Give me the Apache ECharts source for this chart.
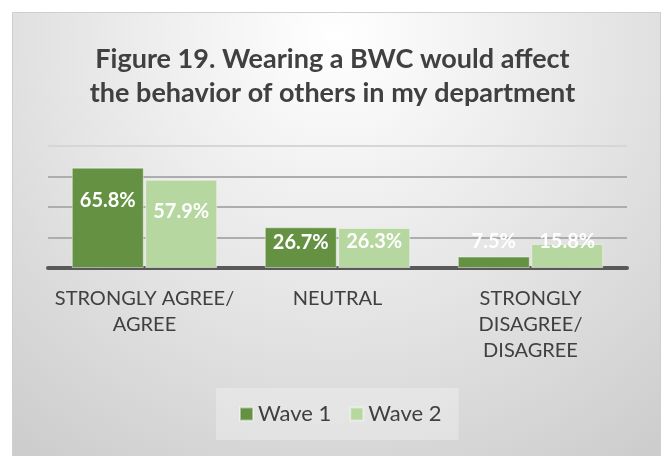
<!DOCTYPE html>
<html>
<head>
<meta charset="utf-8">
<script src="https://cdn.jsdelivr.net/npm/echarts@6/dist/echarts.min.js"></script>
<style>
html,body{margin:0;padding:0;background:#fff;}
#chart{width:665px;height:456px;}
</style>
</head>
<body>
<div id="chart"></div>
<script>
var titleText = 'Figure 19. Wearing a BWC would affect\nthe behavior of others in my department';
var categories = ['STRONGLY AGREE/\nAGREE', 'NEUTRAL', 'STRONGLY\nDISAGREE/\nDISAGREE'];
var seriesNames = ['Wave 1', 'Wave 2'];
var wave1 = [65.8, 26.7, 7.5];
var wave2 = [57.9, 26.3, 15.8];
var yTicks = [0, 20, 40, 60, 80];

// label vertical placement (style only)
var labelOffsets1 = [23, 5, -25];
var labelOffsets2 = [22, 4, -12];

var FONT = 'Lato';
var chart = echarts.init(document.getElementById('chart'), null, {renderer: 'canvas'});

function buildData(vals, offs) {
  return vals.map(function (v, i) {
    return { value: v, label: { offset: [0, offs[i]] } };
  });
}

var labelStyle = {
  show: true,
  position: 'insideTop',
  distance: 0,
  color: '#ffffff',
  fontFamily: FONT,
  fontWeight: 'bold',
  fontSize: 20,
  lineHeight: 20,
  formatter: function (p) { return p.value.toFixed(1) + '%'; }
};

var option = {
  backgroundColor: '#ffffff',
  animation: false,
  graphic: [{
    type: 'rect',
    z: -10,
    silent: true,
    shape: { x: 12.5, y: 12.5, width: 648, height: 470 },
    style: {
      fill: {
        type: 'radial', x: 0.5, y: 0.05, r: 1.1,
        colorStops: [
          { offset: 0, color: '#ffffff' },
          { offset: 0.35, color: '#eeeeee' },
          { offset: 1, color: '#cdcdcd' }
        ]
      },
      stroke: '#cfcfcf',
      lineWidth: 1
    }
  }],
  title: {
    text: titleText,
    left: 'center',
    top: 42,
    padding: 0,
    textStyle: {
      fontFamily: FONT,
      fontWeight: 'bold',
      fontSize: 27,
      lineHeight: 34,
      color: '#404040'
    }
  },
  legend: {
    data: seriesNames,
    left: 216,
    top: 388,
    padding: [15, 17, 15, 23],
    backgroundColor: 'rgba(255,255,255,0.28)',
    itemWidth: 13,
    itemHeight: 13,
    itemGap: 18,
    icon: 'rect',
    textStyle: { fontFamily: FONT, fontSize: 22, color: '#404040' }
  },
  grid: { left: 48, right: 38, top: 146, bottom: 188, containLabel: false },
  xAxis: {
    type: 'category',
    data: categories,
    axisLine: { lineStyle: { color: '#595959', width: 4 } },
    axisTick: { show: false },
    axisLabel: {
      fontFamily: FONT,
      fontSize: 20,
      lineHeight: 26,
      color: '#404040',
      margin: 18,
      interval: 0
    }
  },
  yAxis: {
    type: 'value',
    min: yTicks[0],
    max: yTicks[yTicks.length - 1],
    interval: yTicks[1] - yTicks[0],
    axisLabel: { show: false },
    axisLine: { show: false },
    axisTick: { show: false },
    splitLine: { lineStyle: { color: ['#adadad', '#adadad', '#adadad', '#adadad', '#d6d6d6'], width: 2 } }
  },
  series: [{
    name: seriesNames[0],
    type: 'bar',
    barWidth: 72,
    barGap: '2%',
    data: buildData(wave1, labelOffsets1),
    itemStyle: { color: '#659143', borderColor: 'rgba(255,255,255,0.45)', borderWidth: 1 },
    label: labelStyle
  }, {
    name: seriesNames[1],
    type: 'bar',
    barWidth: 72,
    barGap: '2%',
    data: buildData(wave2, labelOffsets2),
    itemStyle: { color: '#b6d7a0', borderColor: 'rgba(255,255,255,0.45)', borderWidth: 1 },
    label: labelStyle
  }]
};
chart.setOption(option);
</script>
</body>
</html>
